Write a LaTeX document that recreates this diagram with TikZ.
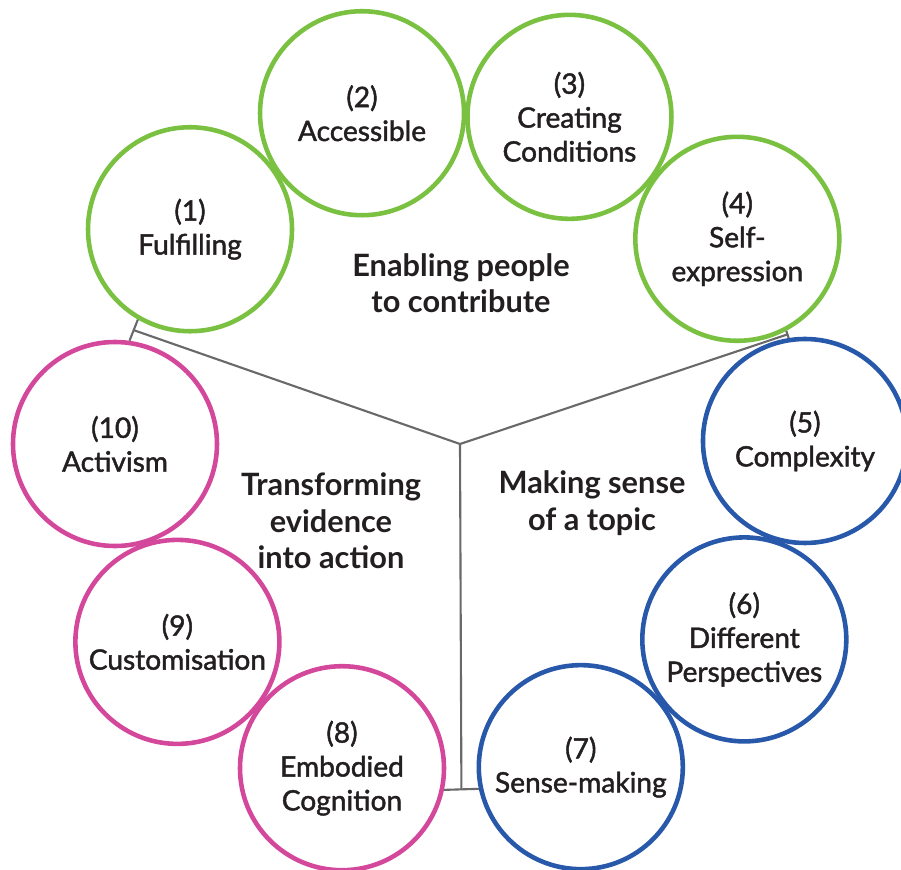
\documentclass[tikz,border=0pt]{standalone}
\usepackage{fontspec}
\setmainfont{Lato}
\newfontfamily\bubblefont{Lato}[FakeBold=1.6]
\usetikzlibrary{positioning,calc}
\definecolor{LeafGreen}{RGB}{122,193,66}
\definecolor{BerryPink}{RGB}{212,72,155}
\definecolor{DeepBlue}{RGB}{40,88,170}
\definecolor{SpokeGray}{RGB}{105,105,105}
\definecolor{InkBlack}{RGB}{35,31,32}
\tikzset{
  bubble/.style={circle,draw,line width=2.6pt,minimum size=4.08cm,inner sep=0pt,
    align=center,text=InkBlack,font=\bubblefont\fontsize{16}{19.3}\selectfont},
  spoke/.style={draw=SpokeGray,line width=1.2pt},
  theme/.style={align=center,text=InkBlack,font=\bfseries\fontsize{17.5}{20.8}\selectfont},
}

\begin{document}
\begin{tikzpicture}
\path[use as bounding box] (-9.2,-8.5) rectangle (8.82,8.88);
\clip (-9.2,-8.5) rectangle (8.82,8.88);
\coordinate (hub) at (0,0);
% enabling people to contribute
\node[bubble,draw=LeafGreen] (c1) at (141.5:6.9) {(1)\\Fulfilling};
\node[bubble,draw=LeafGreen] (c2) at (106.5:6.9) {(2)\\Accessible};
\node[bubble,draw=LeafGreen] (c3) at (71.5:6.9) {(3)\\Creating\\Conditions};
\node[bubble,draw=LeafGreen] (c4) at (36.5:6.9) {(4)\\Self-\\expression};
% making sense of a topic
\node[bubble,draw=DeepBlue] (c5) at (0.5:6.9) {(5)\\Complexity};
\node[bubble,draw=DeepBlue] (c6) at (-34.5:6.9) {(6)\\Different\\Perspectives};
\node[bubble,draw=DeepBlue] (c7) at (-69.5:6.9) {(7)\\Sense-making};
% transforming evidence into action
\node[bubble,draw=BerryPink] (c8) at (-110:6.9) {(8)\\Embodied\\Cognition};
\node[bubble,draw=BerryPink] (c9) at (-145:6.9) {(9)\\Customisation};
\node[bubble,draw=BerryPink] (c10) at (180:6.9) {(10)\\Activism};
\node[theme] (tEnable) at (0.02,3.22) {Enabling people\\to contribute};
\node[theme] (tSense) at (2.64,-1.18) {Making sense\\of a topic};
\node[theme] (tAction) at (-2.58,-1.54) {Transforming\\evidence\\into action};
% spokes
\draw[spoke] (c1.240) -- (c10.82);
\draw[spoke] (c4.298) -- (c5.99);
\draw[spoke] (c8.348) -- (c7.192);
\coordinate (tipL) at ($(c1.240)!0.5!(c10.82)$);
\coordinate (tipR) at ($(c4.298)!0.5!(c5.99)$);
\coordinate (tipB) at ($(c8.348)!0.5!(c7.192)$);
\draw[spoke] (hub) -- (tipL);
\draw[spoke] (hub) -- (tipR);
\draw[spoke] (hub) -- (tipB);
\end{tikzpicture}
\end{document}
